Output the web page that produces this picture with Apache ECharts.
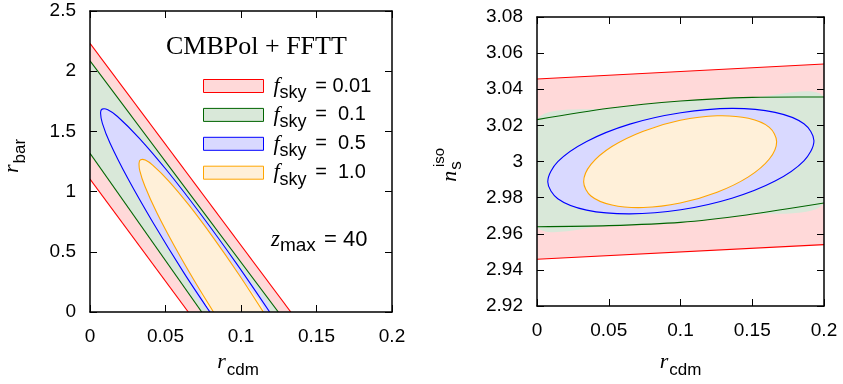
<!DOCTYPE html>
<html>
<head>
<meta charset="utf-8">
<script src="https://cdn.jsdelivr.net/npm/echarts@6/dist/echarts.min.js"></script>
<style>
html, body { margin: 0; padding: 0; background: #fff; }
#chart { width: 843px; height: 384px; }
</style>
</head>
<body>
<div id="chart"></div>
<script>
// tick values
var xTicks = [0, 0.05, 0.1, 0.15, 0.2];
var leftYTicks = [0, 0.5, 1, 1.5, 2, 2.5];
var rightYTicks = [2.92, 2.94, 2.96, 2.98, 3, 3.02, 3.04, 3.06, 3.08];

// left panel: r_bar against r_cdm
var leftRedUpper = [[0, 2.232], [0.133, 0]];
var leftRedLower = [[0, 1.105], [0.0651, 0]];
var leftGreenUpper = [[0, 2.087], [0.1247, 0]];
var leftGreenLower = [[0, 1.318], [0.074, 0]];
var leftBlue = [[0.0794, 0], [0.0622, 0.325], [0.0417, 0.743], [0.0250, 1.110], [0.0133, 1.401], [0.0082, 1.567],
  [0.0070, 1.653], [0.0080, 1.685], [0.0118, 1.680], [0.0182, 1.624], [0.0324, 1.447], [0.0511, 1.173],
  [0.0730, 0.818], [0.0967, 0.408], [0.1190, 0]];
var leftOrange = [[0.0818, 0], [0.0702, 0.236], [0.0558, 0.550], [0.0442, 0.826], [0.0363, 1.047], [0.0330, 1.173],
  [0.0325, 1.238], [0.0335, 1.264], [0.0366, 1.262], [0.0415, 1.220], [0.0520, 1.090], [0.0657, 0.885],
  [0.0815, 0.620], [0.0986, 0.312], [0.1148, 0]];

// right panel: n_s^iso against r_cdm
var rightRedUpper = [[0, 3.0457], [0.2, 3.054]];
var rightRedLower = [[0, 2.9459], [0.2, 2.954]];
var rightGreenUpper = [[0, 3.0232], [0.05, 3.0295], [0.1, 3.0335], [0.15, 3.0355], [0.2, 3.0357]];
var rightGreenLower = [[0, 2.9639], [0.05, 2.9645], [0.1, 2.9663], [0.146, 2.9704], [0.2, 2.977]];
var rightBlue = [[0.1930, 3.0115], [0.1860, 3.0004], [0.1659, 2.9892], [0.1358, 2.9797], [0.1002, 2.9733],
  [0.0647, 2.9710], [0.0346, 2.9731], [0.0145, 2.9794], [0.0075, 2.9888], [0.0145, 2.9999], [0.0346, 3.0111],
  [0.0647, 3.0207], [0.1002, 3.0270], [0.1358, 3.0294], [0.1659, 3.0272], [0.1860, 3.0209]];
var rightOrange = [[0.1670, 3.0110], [0.1619, 3.0014], [0.1473, 2.9915], [0.1255, 2.9830], [0.0998, 2.9770],
  [0.0741, 2.9745], [0.0522, 2.9759], [0.0376, 2.9809], [0.0325, 2.9888], [0.0376, 2.9984], [0.0522, 3.0083],
  [0.0741, 3.0168], [0.0998, 3.0228], [0.1255, 3.0253], [0.1473, 3.0239], [0.1619, 3.0189]];

var skyNames = ['f0.01', 'f0.1', 'f0.5', 'f1.0'];
var skyValues = ['0.01', ' 0.1', ' 0.5', ' 1.0'];
var lineColors = ['#ff0000', '#006400', '#0000ff', '#ffa500'];
var fillColors = ['#ffd9d9', '#d9e8d9', '#d9d9ff', '#fff0d9'];

var sans = 'Liberation Sans';
var serif = 'Liberation Serif';

function fmt(v) {
  return String(parseFloat(v.toFixed(3)));
}

function rev(a) {
  return a.slice().reverse();
}

// one filled contour, with its outline(s)
function contour(name, grid, fillPts, strokes, k, closed, smooth) {
  return {
    type: 'custom',
    name: name,
    xAxisIndex: grid,
    yAxisIndex: grid,
    clip: true,
    silent: true,
    itemStyle: { color: fillColors[k], borderColor: lineColors[k], borderWidth: 1 },
    data: fillPts,
    renderItem: function (params, api) {
      if (params.dataIndex !== 0) return null;
      var cs = params.coordSys;
      var box = [[cs.x, cs.y], [cs.x + cs.width, cs.y + cs.height]];
      var px = function (p) { return api.coord(p); };
      var children = [{
        type: 'polygon',
        shape: { points: fillPts.map(px), smooth: smooth, smoothConstraint: smooth ? box : null },
        style: { fill: fillColors[k], stroke: closed ? lineColors[k] : null, lineWidth: 1.1 }
      }];
      strokes.forEach(function (line) {
        children.push({
          type: 'polyline',
          shape: { points: line.map(px), smooth: smooth, smoothConstraint: smooth ? box : null },
          style: { fill: null, stroke: lineColors[k], lineWidth: 1.1 }
        });
      });
      return { type: 'group', children: children };
    }
  };
}

function xAxis(grid, pos) {
  return {
    type: 'value', gridIndex: grid, position: pos, z: 10,
    min: xTicks[0], max: xTicks[xTicks.length - 1], interval: xTicks[1] - xTicks[0],
    axisLine: { show: true, onZero: false, lineStyle: { color: '#000', width: 1.5 } },
    axisTick: { show: true, inside: true, length: 7, lineStyle: { color: '#000', width: 1 } },
    axisLabel: { show: pos === 'bottom', margin: 15, color: '#000', fontFamily: sans, fontSize: 19, formatter: fmt },
    splitLine: { show: false }
  };
}

function yAxis(grid, pos, ticks) {
  return {
    type: 'value', gridIndex: grid, position: pos, z: 10,
    min: ticks[0], max: ticks[ticks.length - 1], interval: +(ticks[1] - ticks[0]).toFixed(4),
    axisLine: { show: true, onZero: false, lineStyle: { color: '#000', width: 1.5 } },
    axisTick: { show: true, inside: true, length: 7, lineStyle: { color: '#000', width: 1 } },
    axisLabel: { show: pos === 'left', margin: 14, color: '#000', fontFamily: sans, fontSize: 19, formatter: fmt },
    splitLine: { show: false }
  };
}

var chart = echarts.init(document.getElementById('chart'));

var option = {
  animation: false,
  backgroundColor: '#fff',
  grid: [
    { left: 90, top: 11, width: 302, height: 301 },
    { left: 537, top: 17, width: 287, height: 289 }
  ],
  xAxis: [xAxis(0, 'bottom'), xAxis(1, 'bottom'), xAxis(0, 'top'), xAxis(1, 'top')],
  yAxis: [yAxis(0, 'left', leftYTicks), yAxis(1, 'left', rightYTicks),
          yAxis(0, 'right', leftYTicks), yAxis(1, 'right', rightYTicks)],
  legend: {
    left: 203, top: 75, orient: 'vertical', padding: 0,
    itemWidth: 60, itemHeight: 13, itemGap: 1.9,
    selectedMode: false,
    data: skyNames.map(function (n, k) {
      return { name: n, icon: 'rect', itemStyle: { color: fillColors[k], borderColor: lineColors[k], borderWidth: 1 } };
    }),
    formatter: function (n) {
      return '{f|f}{s|sky}{t| = ' + skyValues[skyNames.indexOf(n)] + '}';
    },
    textStyle: {
      color: '#000',
      rich: {
        f: { fontFamily: serif, fontStyle: 'italic', fontSize: 22, color: '#000', padding: [0, 0, 0, 5] },
        s: { fontFamily: sans, fontSize: 18, color: '#000', padding: [14, 3, 0, 0] },
        t: { fontFamily: sans, fontSize: 20, color: '#000' }
      }
    }
  },
  graphic: [
    { type: 'text', x: 166, y: 47.5, silent: true,
      style: { text: 'CMBPol + FFTT', font: '26px "Liberation Serif"', fill: '#000', verticalAlign: 'middle' } },
    { type: 'text', x: 271, y: 239.5, silent: true,
      style: { text: '{z|z}{m|max}{t| = 40}', verticalAlign: 'middle', fill: '#000',
        rich: {
          z: { fontFamily: serif, fontStyle: 'italic', fontSize: 23, fill: '#000' },
          m: { fontFamily: sans, fontSize: 19, fill: '#000', padding: [13, 2, 0, 0] },
          t: { fontFamily: sans, fontSize: 22, fill: '#000' }
        } } },
    { type: 'text', x: 238, y: 362.6, silent: true,
      style: { text: '{r|r}{c|cdm}', align: 'center', verticalAlign: 'middle', fill: '#000',
        rich: {
          r: { fontFamily: serif, fontStyle: 'italic', fontSize: 22, fill: '#000' },
          c: { fontFamily: sans, fontSize: 17, fill: '#000', padding: [16, 0, 0, 1] }
        } } },
    { type: 'text', x: 680.5, y: 362.6, silent: true,
      style: { text: '{r|r}{c|cdm}', align: 'center', verticalAlign: 'middle', fill: '#000',
        rich: {
          r: { fontFamily: serif, fontStyle: 'italic', fontSize: 22, fill: '#000' },
          c: { fontFamily: sans, fontSize: 17, fill: '#000', padding: [16, 0, 0, 1] }
        } } },
    { type: 'text', x: 12.6, y: 156, rotation: Math.PI / 2, silent: true,
      style: { text: '{r|r}{c|bar}', align: 'center', verticalAlign: 'middle', fill: '#000',
        rich: {
          r: { fontFamily: serif, fontStyle: 'italic', fontSize: 22, fill: '#000' },
          c: { fontFamily: sans, fontSize: 17, fill: '#000', padding: [16, 0, 0, 1] }
        } } },
    { type: 'text', x: 450, y: 171.5, rotation: Math.PI / 2, silent: true,
      style: { text: '{n|n}{s|s}', align: 'center', verticalAlign: 'middle', fill: '#000',
        rich: {
          n: { fontFamily: serif, fontStyle: 'italic', fontSize: 22, fill: '#000' },
          s: { fontFamily: sans, fontSize: 17, fill: '#000', padding: [12, 0, 0, 1] }
        } } },
    { type: 'text', x: 440, y: 157.5, rotation: Math.PI / 2, silent: true,
      style: { text: 'iso', font: '15px "Liberation Sans"', align: 'center', verticalAlign: 'middle', fill: '#000' } }
  ],
  series: [
    contour(skyNames[0], 0, leftRedUpper.concat(rev(leftRedLower)), [leftRedUpper, leftRedLower], 0, false, 0),
    contour(skyNames[1], 0, leftGreenUpper.concat(rev(leftGreenLower)), [leftGreenUpper, leftGreenLower], 1, false, 0),
    contour(skyNames[2], 0, leftBlue, [leftBlue], 2, false, 0.33),
    contour(skyNames[3], 0, leftOrange, [leftOrange], 3, false, 0.33),
    contour('r0.01', 1, rightRedUpper.concat(rev(rightRedLower)), [rightRedUpper, rightRedLower], 0, false, 0),
    contour('r0.1', 1, rightGreenUpper.concat(rev(rightGreenLower)), [rightGreenUpper, rightGreenLower], 1, false, 0.3),
    contour('r0.5', 1, rightBlue, [], 2, true, 0.33),
    contour('r1.0', 1, rightOrange, [], 3, true, 0.33)
  ]
};

chart.setOption(option);
</script>
</body>
</html>
